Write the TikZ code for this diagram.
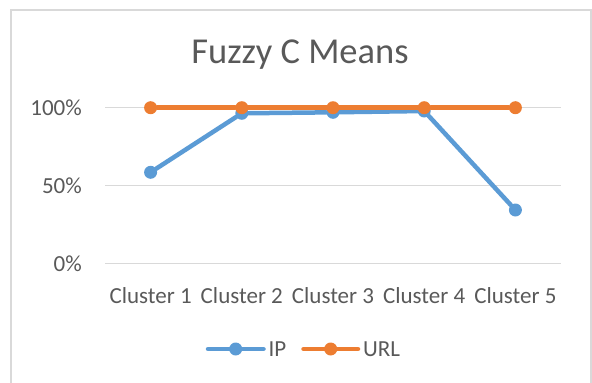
\documentclass[tikz,border=0pt]{standalone}
\usepackage{fontspec}
\setmainfont{Carlito}
\usetikzlibrary{positioning}
\definecolor{ipblue}{HTML}{5B9BD5}
\definecolor{urlorange}{HTML}{ED7D31}
\definecolor{gridgray}{HTML}{D9D9D9}
\definecolor{txtgray}{HTML}{595959}

\begin{document}
\begin{tikzpicture}[x=1pt, y=-1pt,
    gridline/.style={draw=gridgray, line width=1.5pt},
    dot/.style={circle, inner sep=0pt, minimum size=13pt},
    ipdot/.style={dot, fill=ipblue},
    urldot/.style={dot, fill=urlorange},
    ipline/.style={draw=ipblue, line width=4.5pt, line cap=round},
    urlline/.style={draw=urlorange, line width=4.5pt, line cap=round},
    lbl/.style={text=txtgray, font=\fontsize{23}{26}\selectfont, inner sep=0pt}
]
\useasboundingbox (0,0) rectangle (592,383);
\draw[draw=gridgray, line width=2pt] (11,400) -- (11,9.5) -- (590.5,9.5) -- (590.5,400);

\node[lbl, font=\fontsize{36.5}{40}\selectfont] (title) at (300,55) {Fuzzy C Means};

% gridlines and axis labels
\draw[gridline] (105,107.7) -- (561,107.7);
\draw[gridline] (105,185.5) -- (561,185.5);
\draw[gridline] (105,263.3) -- (561,263.3);
\node[lbl, anchor=east] (y100) at (82,107.7) {100\%};
\node[lbl, anchor=east] (y50) at (82,185.5) {50\%};
\node[lbl, anchor=east] (y0) at (82,263.3) {0\%};

\node[lbl] (c1) at (150.6,296) {Cluster 1};
\node[lbl] (c2) at (241.8,296) {Cluster 2};
\node[lbl] (c3) at (333,296) {Cluster 3};
\node[lbl] (c4) at (424.2,296) {Cluster 4};
\node[lbl] (c5) at (515.4,296) {Cluster 5};

% IP series
\node[ipdot] (ip1) at (150.6,172.3) {};
\node[ipdot] (ip2) at (241.8,113.3) {};
\node[ipdot] (ip3) at (333,112.3) {};
\node[ipdot] (ip4) at (424.2,111) {};
\node[ipdot] (ip5) at (515.4,210) {};
\draw[ipline] (ip1) -- (ip2);
\draw[ipline] (ip2) -- (ip3);
\draw[ipline] (ip3) -- (ip4);
\draw[ipline] (ip4) -- (ip5);

% URL series
\node[urldot] (url1) at (150.6,107.7) {};
\node[urldot] (url2) at (241.8,107.7) {};
\node[urldot] (url3) at (333,107.7) {};
\node[urldot] (url4) at (424.2,107.7) {};
\node[urldot] (url5) at (515.4,107.7) {};
\draw[urlline] (url1) -- (url2);
\draw[urlline] (url2) -- (url3);
\draw[urlline] (url3) -- (url4);
\draw[urlline] (url4) -- (url5);

% legend
\coordinate (ipa) at (208,349);
\coordinate (ipb) at (263.5,349);
\draw[ipline] (ipa) -- (ipb);
\node[ipdot] (ipkey) at (235.7,349) {};
\node[lbl, anchor=west] (iptxt) at (268.5,349) {IP};
\coordinate (urla) at (303.5,349);
\coordinate (urlb) at (358,349);
\draw[urlline] (urla) -- (urlb);
\node[urldot] (urlkey) at (330.7,349) {};
\node[lbl, anchor=west] (urltxt) at (363,349) {URL};
\end{tikzpicture}
\end{document}
